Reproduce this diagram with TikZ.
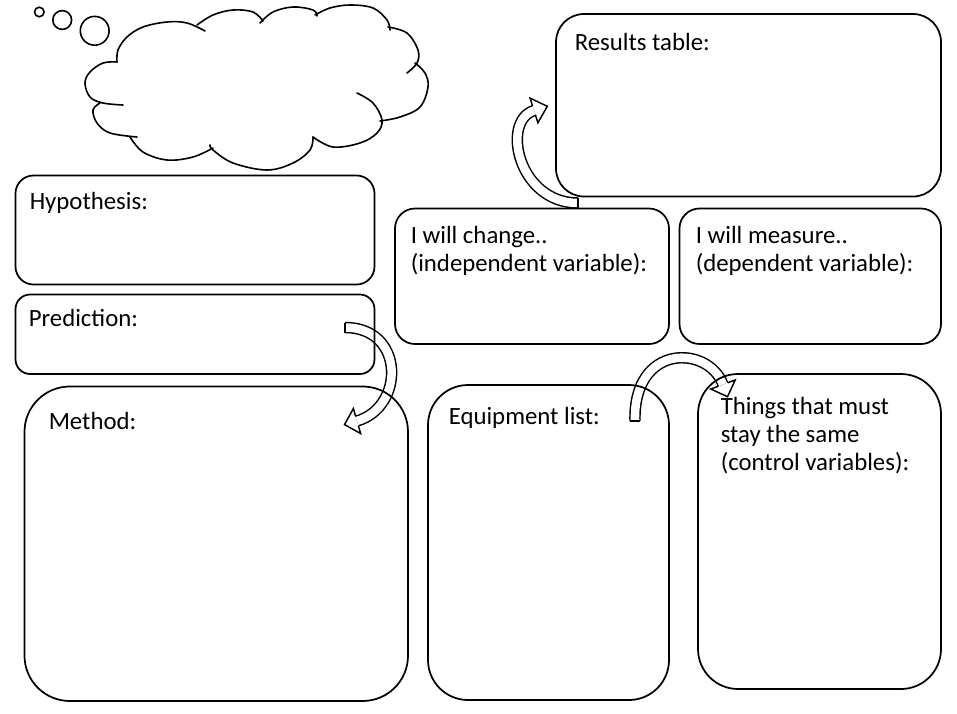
\documentclass[tikz,border=0pt]{standalone}
\usepackage{fontspec}
\setmainfont{Carlito}
\usetikzlibrary{fit}
\begin{document}
\begin{tikzpicture}[x=0.75pt,y=-0.75pt,
  box/.style={draw, line width=1.3pt, inner sep=0pt, outer sep=0pt},
  lbl/.style={inner sep=0pt, anchor=base west, align=left, font=\fontsize{18.6pt}{21pt}\selectfont},
  band/.style={line width=1.1pt, double=white, double distance=6.4pt},
  headtip/.style={line width=1.1pt, line join=miter},
  capline/.style={line width=1.1pt},
  cloudline/.style={line width=1.2pt, line cap=round, line join=round},
]
\useasboundingbox (0,0) rectangle (957,714);

% ---- thought cloud ----
\draw[cloudline] plot[smooth, tension=0.6] coordinates {(117,62) (118,50) (127,37) (143,27) (167,22) (187,23) (205,31)};
\draw[cloudline] plot[smooth, tension=0.6] coordinates {(197,25) (213,15) (233,10) (253,12) (263,21)};
\draw[cloudline] plot[smooth, tension=0.6] coordinates {(260,23) (273,12) (293,7) (313,10) (317,16)};
\draw[cloudline] plot[smooth, tension=0.6] coordinates {(315,15) (330,8) (350,5) (373,8) (387,20) (390,30)};
\draw[cloudline] plot[smooth, tension=0.6] coordinates {(388,27) (407,33) (418,50) (417,63) (407,73)};
\draw[cloudline] plot[smooth, tension=0.6] coordinates {(415,63) (425,73) (428,87) (420,107) (400,117) (380,121)};
\draw[cloudline] plot[smooth, tension=0.6] coordinates {(357,93) (373,103) (382,120) (377,133) (360,143) (333,147) (313,137)};
\draw[cloudline] plot[smooth, tension=0.6] coordinates {(313,137) (310,150) (293,163) (267,170) (233,163) (213,150) (210,145)};
\draw[cloudline] plot[smooth, tension=0.6] coordinates {(213,148) (193,157) (167,160) (143,152) (130,137)};
\draw[cloudline] plot[smooth, tension=0.6] coordinates {(137,137) (110,133) (97,123) (93,110) (100,103)};
\draw[cloudline] plot[smooth, tension=0.6] coordinates {(123,105) (103,103) (90,97) (85,83) (90,72) (103,63) (117,62)};
\draw[cloudline] (39.3,12) circle[radius=4.8];
\draw[cloudline] (62.2,20) circle[radius=9.4];
\draw[cloudline] (94.7,30.8) circle[radius=14.4];

% ---- curved hollow arrows (drawn first; boxes drawn over them) ----
% arrow from "I will change" to "Results table"
\coordinate (aS) at (578,203);
\coordinate (aE) at (534,110.5);
\draw[band] (aS) .. controls (518,203) and (500.75,121) .. (aE);
\draw[capline] (578,198) -- (578,208);
\draw[headtip] (535.5,115.25) -- (537.9,122.85) -- (547.3,106.3) -- (530.1,98.15) -- (532.5,105.75);
% arrow from "Prediction" to "Method"
\coordinate (bS) at (345,327.5);
\coordinate (bE) at (357,421);
\draw[band] (bS) .. controls (405,327.5) and (405,407) .. (bE);
\draw[capline] (345,322.5) -- (345,332.5);
\draw[headtip] (358.4,425.8) -- (360.6,433.5) -- (344.5,424.6) -- (353.4,408.5) -- (355.6,416.2);
% arrow from "Equipment list" to "Things that must stay the same"
\coordinate (cS) at (635,421);
\coordinate (cE) at (723,384.5);
\draw[band] (cS) .. controls (633,343) and (708.3,345) .. (cE);
\draw[capline] (630,421) -- (640,421);
\draw[headtip] (727.7,382.75) -- (735.2,379.95) -- (727.55,396.7) -- (710.8,389.05) -- (718.3,386.25);

% ---- boxes ----
\node[box, rounded corners=13.5pt, fit={(15.5,175.5) (374.5,284.5)}] (hyp) {};
\node[box, rounded corners=11pt, fit={(15.5,294.5) (374.5,374)}] (pred) {};
\node[box, rounded corners=34pt, fit={(24.5,386.5) (408,701)}] (method) {};
\node[box, rounded corners=15pt, fit={(395,208.5) (669,344)}] (change) {};
\node[box, rounded corners=15pt, fit={(679.5,208.5) (941,344)}] (measure) {};
\node[box, rounded corners=21pt, fit={(556,14) (941,196.5)}] (results) {};
\node[box, rounded corners=30pt, fit={(428,385) (669,700)}] (equip) {};
\node[box, rounded corners=30pt, fit={(698,374) (941,689)}] (things) {};

% ---- labels (base = baseline of last line) ----
\node[lbl] (hyptxt) at (29.5,209) {Hypothesis:};
\node[lbl] (predtxt) at (28.5,326) {Prediction:};
\node[lbl] (methtxt) at (48.5,429) {Method:};
\node[lbl] (restxt) at (574.5,50.5) {Results table:};
\node[lbl] (chgtxt) at (410.5,271.5) {I will change..\\(independent variable):};
\node[lbl] (meastxt) at (695.5,271.5) {I will measure..\\(dependent variable):};
\node[lbl] (eqtxt) at (448.5,424) {Equipment list:};
\node[lbl] (thtxt) at (720.5,470) {Things that must\\stay the same\\(control variables):};
\end{tikzpicture}
\end{document}
